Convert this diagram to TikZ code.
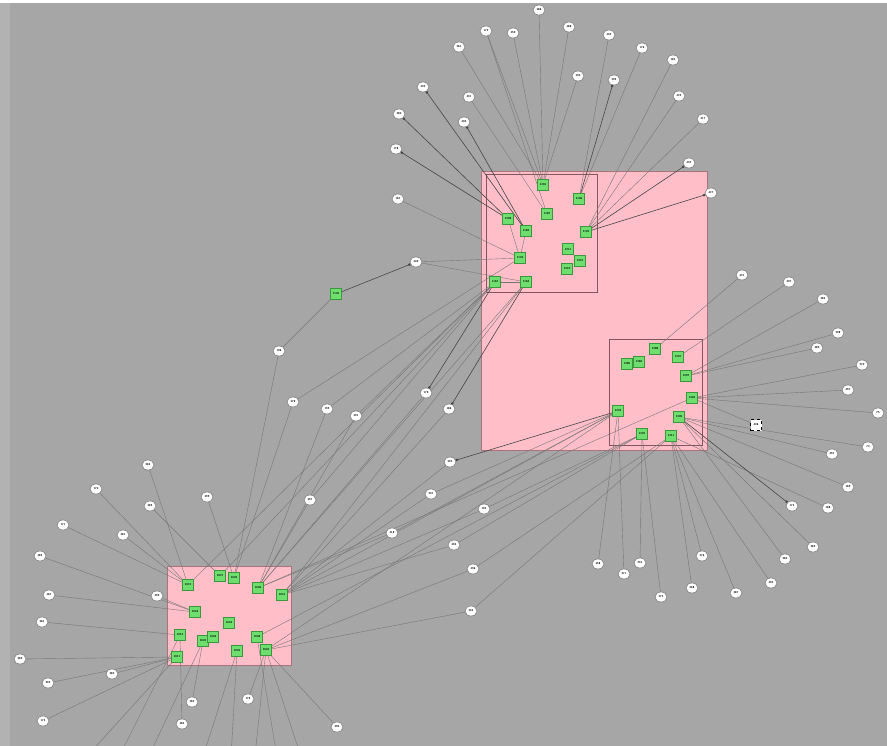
\documentclass[tikz,border=0pt]{standalone}
\usetikzlibrary{arrows.meta, shapes.geometric}
\definecolor{canvas}{RGB}{166,166,166}
\definecolor{canvasedge}{RGB}{178,178,178}
\definecolor{pinkbox}{RGB}{255,190,200}
\definecolor{pinkline}{RGB}{170,115,125}
\definecolor{innerline}{RGB}{130,85,95}
\definecolor{gfill}{RGB}{110,222,110}
\definecolor{gborder}{RGB}{60,150,60}
\definecolor{edgegray}{RGB}{118,118,118}
\definecolor{edgedark}{RGB}{70,70,70}
\definecolor{wborder}{RGB}{120,120,120}
\pgfdeclarelayer{back}
\pgfdeclarelayer{edges}
\pgfsetlayers{back,edges,main}
\begin{document}
\begin{tikzpicture}[x=1pt, y=-1pt, font=\sffamily\bfseries\fontsize{2.8}{3.2}\selectfont,
 wnode/.style={ellipse, draw=wborder, fill=white, minimum width=12pt, minimum height=10pt, inner sep=0pt, line width=0.5pt},
 gnode/.style={rectangle, draw=gborder, fill=gfill, minimum size=11pt, inner sep=0pt, line width=0.5pt},
 snode/.style={rectangle, draw=black, dashed, fill=white, minimum size=11pt, inner sep=0pt, line width=0.4pt},
 edge/.style={draw=edgegray, line width=0.4pt},
 darkedge/.style={draw=edgedark, line width=0.6pt, -{Square[length=2pt,width=2pt]}},
 groupbox/.style={fill=pinkbox, draw=pinkline, line width=0.8pt},
 subbox/.style={draw=innerline, line width=0.6pt}]
\useasboundingbox (0,0) rectangle (887,746);
\begin{pgfonlayer}{back}
\fill[canvas] (0,0) rectangle (887,746);
\fill[canvasedge] (0,3) rectangle (10,746);
\fill[white] (0,0) rectangle (887,3);
\draw[groupbox] (481,171) rectangle (707,450);
\draw[subbox] (486,174) rectangle (597,292);
\draw[subbox] (609,339) rectangle (702,445);
\draw[groupbox] (167,566) rectangle (291,665);
\end{pgfonlayer}
\foreach \n/\x/\y/\t in {a1/543/185/1201, a2/579/199/1196, a3/547/214/1187, a4/508/219/1208, a5/526/231/1182, a6/586/232/1193, a7/520/258/1176, a8/568/249/1211, a9/580/261/1215, a10/567/269/1219, a11/495/282/1167, a12/526/282/1163, b1/655/349/1288, b2/678/357/1291, b3/627/364/1280, b4/639/362/1284, b5/686/376/1297, b6/692/398/1302, b7/618/411/1276, b8/679/417/1305, b9/642/434/1270, b10/671/436/1311, l1/188/585/1021, l2/220/576/1027, l3/234/578/1030, l4/258/588/1036, l5/282/595/1041, l6/195/612/1018, l7/229/623/1033, l8/180/635/1014, l9/203/641/1024, l10/213/637/1026, l11/257/637/1038, l12/266/650/1044, l13/237/651/1035, l14/177/657/1011, g1/336/294/1140}{\node[gnode] (\n) at (\x,\y) {\t};}
\foreach \n/\x/\y/\t in {t1/539/10/386, t2/486/31/172, t3/513/33/359, t4/569/27/388, t5/609/35/402, t6/459/47/361, t7/642/48/176, t8/673/60/183, t9/578/76/390, t10/614/80/395, t11/423/87/403, t12/469/97/401, t13/679/96/424, t14/399/114/380, t15/464/122/405, t16/703/119/417, t17/396/149/178, t18/689/163/407, t19/711/193/427, t20/398/199/181, t21/416/262/409, r1/742/275/421, r2/789/282/497, r3/823/299/383, r4/838/333/398, r5/817/348/389, r6/862/365/270, r7/848/390/497, r8/878/413/75, r9/868/447/74, r10/832/454/491, r11/848/487/189, r12/792/506/173, r13/828/508/188, d1/813/547/385, d2/785/559/384, d3/702/556/276, d4/771/583/493, d5/598/564/358, d6/640/563/291, d7/624/574/371, d8/692/588/468, d9/736/593/387, d10/661/597/373, m1/279/351/196, m2/293/402/378, m3/327/409/195, m4/356/416/391, m5/426/393/179, m6/449/409/186, m7/450/462/393, m8/431/494/391, m9/484/509/194, m10/392/533/418, m11/454/545/494, m12/473/569/396, m13/471/611/393, m14/207/497/399, m15/310/500/397, w1/148/465/384, w2/96/489/170, w3/150/506/385, w4/63/525/171, w5/123/535/381, w6/40/556/385, w7/49/595/387, w8/157/596/399, w9/42/622/381, w10/20/659/389, w11/112/674/382, w12/48/683/392, w13/192/702/182, w14/248/699/179, w15/43/721/174, w16/182/724/383, w17/337/727/390}{\node[wnode] (\n) at (\x,\y) {\t};}
\node[snode] (s1) at (756,425) {406};
\foreach \n/\x in {z1/70, z2/110, z3/140, z4/197, z5/230, z6/253, z7/280, z8/307}{\coordinate (\n) at (\x,775);}
\begin{pgfonlayer}{edges}
\clip (0,0) rectangle (887,746);
\foreach \s/\e in {t1/a1, t2/a1, t3/a1, t4/a1, t6/a1, t9/a1, t12/a3, t2/a3, t5/a2, t7/a2, t8/a6, t13/a6, t16/a6, t20/a7, t21/a7, t21/a12, m15/a11, m2/a7, m3/a11, m4/a11, m2/l3, m3/l4, m4/l4, m1/l3, m5/l4, m6/l5, m7/l5, m8/b7, m8/l5, m9/b9, m9/l5, m10/b7, m10/l4, m11/b9, m11/l5, m12/b10, m12/l12, m13/l12, m13/b10, m14/l3, m15/l4, a11/l1, a11/l2, a12/l4, a12/l5, r1/b1, r2/b2, r3/b5, r4/b5, r5/b5, r6/b6, r7/b6, r8/b6, r9/b8, r10/b8, r11/b8, r13/b10, s1/b6, d1/b8, d2/b8, d3/b10, d4/b10, d5/b7, d6/b9, d7/b7, d8/b10, d9/b10, d10/b9, w1/l1, w2/l1, w3/l2, w4/l1, w5/l1, w6/l6, w7/l6, w8/l6, w9/l8, w10/l14, w11/l14, w12/l14, w13/l9, w14/l12, w15/l14, w16/l8, w17/l12, l5/b7, l4/b6, l12/b7, l11/b9, g1/m1, z1/l14, z2/l8, z3/l9, z4/l13, z5/l13, z6/l12, z7/l11, z8/l12, a5/a7, a4/a7, a11/a12}{\draw[edge] (\s) -- (\e);}
\foreach \s/\e in {a5/t11, a4/t14, a5/t15, a4/t17, a2/t10, a6/t18, a6/t19, a11/m5, a12/m6, b7/m7, b8/r12, g1/t21}{\draw[darkedge] (\s) -- (\e);}
\end{pgfonlayer}
\end{tikzpicture}
\end{document}
